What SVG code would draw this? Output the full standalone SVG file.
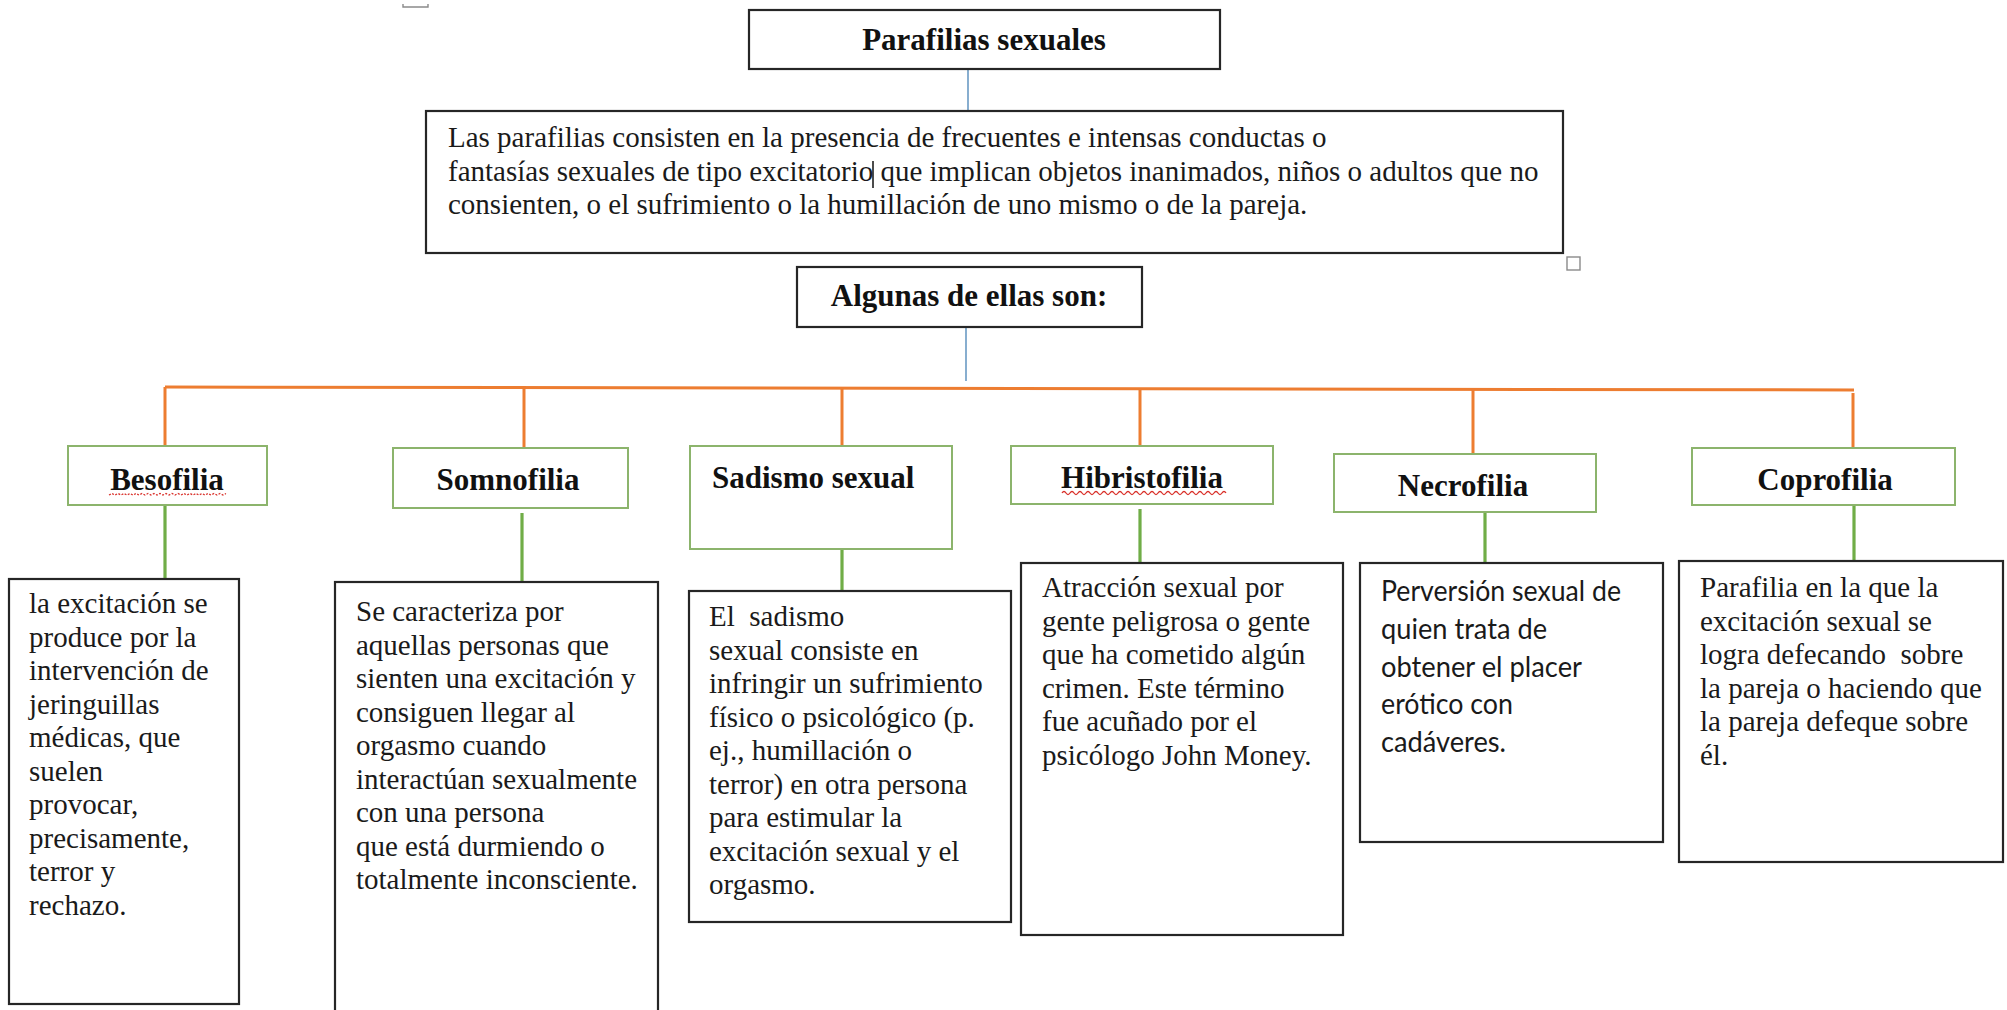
<svg xmlns="http://www.w3.org/2000/svg" width="2007" height="1010" viewBox="0 0 2007 1010">
<style>
.bg{fill:#ffffff}
.bk{fill:#ffffff;stroke:#262626;stroke-width:2.2}
.gb{fill:#ffffff;stroke:#8cb46c;stroke-width:2}
.h{font-family:"Liberation Serif","Times New Roman",serif;font-weight:bold;font-size:31px;fill:#111}
.t{font-family:"Liberation Serif","Times New Roman",serif;font-size:29px;fill:#1a1a1a;white-space:pre}
.c{font-family:Lato,"Open Sans",sans-serif;font-size:28px;fill:#1a1a1a}
.blue{stroke:#6a9ac4;stroke-width:1.6;fill:none}
.or{stroke:#ed7d31;stroke-width:3;fill:none}
.gr{stroke:#70ad47;stroke-width:3.2;fill:none}
.red{stroke:#d9312b;stroke-width:1.3;fill:none}
.mk{stroke:#8a8a8a;stroke-width:1.4;fill:none}
</style>
<rect class="bg" x="0" y="0" width="2007" height="1010"/>
<path class="mk" d="M403,4 V7 H428 V4"/>
<rect class="mk" x="1567" y="257" width="13" height="13" fill="#fff"/>

<g id="connectors">
  <line class="blue" x1="968" y1="69" x2="968" y2="111"/>
  <line class="blue" x1="966" y1="327" x2="966" y2="381"/>
  <line class="or" x1="165" y1="387" x2="1854" y2="390"/>
  <line class="or" x1="165" y1="387" x2="165" y2="446"/>
  <line class="or" x1="524" y1="388" x2="524" y2="448"/>
  <line class="or" x1="842" y1="388" x2="842" y2="446"/>
  <line class="or" x1="1140" y1="389" x2="1140" y2="446"/>
  <line class="or" x1="1473" y1="389" x2="1473" y2="454"/>
  <line class="or" x1="1853" y1="393" x2="1853" y2="448"/>
  <line class="gr" x1="165" y1="505" x2="165" y2="579"/>
  <line class="gr" x1="522" y1="513" x2="522" y2="582"/>
  <line class="gr" x1="842" y1="549" x2="842" y2="591"/>
  <line class="gr" x1="1140" y1="509" x2="1140" y2="563"/>
  <line class="gr" x1="1485" y1="512" x2="1485" y2="563"/>
  <line class="gr" x1="1854" y1="501" x2="1854" y2="561" stroke-width="4"/>
</g>

<g id="title">
  <rect class="bk" x="749" y="10" width="471" height="59"/>
  <text class="h" x="984" y="50" text-anchor="middle">Parafilias sexuales</text>
</g>

<g id="definition">
  <rect class="bk" x="426" y="111" width="1137" height="142"/>
  <text class="t" x="448" y="147">Las parafilias consisten en la presencia de frecuentes e intensas conductas o</text>
  <text class="t" x="448" y="181">fantasías sexuales de tipo excitatorio que implican objetos inanimados, niños o adultos que no</text>
  <text class="t" x="448" y="214">consienten, o el sufrimiento o la humillación de uno mismo o de la pareja.</text>
  <line x1="873" y1="161" x2="873" y2="188" stroke="#111" stroke-width="1.5"/>
</g>

<g id="algunas">
  <rect class="bk" x="797" y="267" width="345" height="60"/>
  <text class="h" x="969" y="306" text-anchor="middle" font-size="29">Algunas de ellas son:</text>
</g>

<g id="besofilia">
  <rect class="gb" x="68" y="446" width="199" height="59"/>
  <text class="h" x="167" y="490" text-anchor="middle">Besofilia</text>
  <path class="red" stroke-dasharray="2 1.5" d="M109,495 l3,-1.5 l3,1.5 l3,-1.5 l3,1.5 l3,-1.5 l3,1.5 l3,-1.5 l3,1.5 l3,-1.5 l3,1.5 l3,-1.5 l3,1.5 l3,-1.5 l3,1.5 l3,-1.5 l3,1.5 l3,-1.5 l3,1.5 l3,-1.5 l3,1.5 l3,-1.5 l3,1.5 l3,-1.5 l3,1.5 l3,-1.5 l3,1.5 l3,-1.5 l3,1.5 l3,-1.5 l3,1.5 l3,-1.5 l3,1.5 l3,-1.5 l3,1.5 l3,-1.5 l3,1.5 l3,-1.5 l3,1.5 l3,-1.5"/>
</g>
<g id="besofilia-desc">
  <rect class="bk" x="9" y="579" width="230" height="425"/>
  <text class="t" x="29" y="613">la excitación se</text>
  <text class="t" x="29" y="646.5">produce por la</text>
  <text class="t" x="29" y="680">intervención de</text>
  <text class="t" x="29" y="713.5">jeringuillas</text>
  <text class="t" x="29" y="747">médicas, que</text>
  <text class="t" x="29" y="780.5">suelen</text>
  <text class="t" x="29" y="814">provocar,</text>
  <text class="t" x="29" y="847.5">precisamente,</text>
  <text class="t" x="29" y="881">terror y</text>
  <text class="t" x="29" y="914.5">rechazo.</text>
</g>

<g id="somnofilia">
  <rect class="gb" x="393" y="448" width="235" height="60"/>
  <text class="h" x="508" y="490" text-anchor="middle">Somnofilia</text>
</g>
<g id="somnofilia-desc">
  <rect class="bk" x="335" y="582" width="323" height="440"/>
  <text class="t" x="356" y="621">Se caracteriza por</text>
  <text class="t" x="356" y="654.5">aquellas personas que</text>
  <text class="t" x="356" y="688">sienten una excitación y</text>
  <text class="t" x="356" y="721.5">consiguen llegar al</text>
  <text class="t" x="356" y="755">orgasmo cuando</text>
  <text class="t" x="356" y="788.5">interactúan sexualmente</text>
  <text class="t" x="356" y="822">con una persona</text>
  <text class="t" x="356" y="855.5">que está durmiendo o</text>
  <text class="t" x="356" y="889">totalmente inconsciente.</text>
</g>

<g id="sadismo">
  <rect class="gb" x="690" y="446" width="262" height="103"/>
  <text class="h" x="712" y="488">Sadismo sexual</text>
</g>
<g id="sadismo-desc">
  <rect class="bk" x="689" y="591" width="322" height="331"/>
  <text class="t" x="709" y="626">El  sadismo</text>
  <text class="t" x="709" y="659.5">sexual consiste en</text>
  <text class="t" x="709" y="693">infringir un sufrimiento</text>
  <text class="t" x="709" y="726.5">físico o psicológico (p.</text>
  <text class="t" x="709" y="760">ej., humillación o</text>
  <text class="t" x="709" y="793.5">terror) en otra persona</text>
  <text class="t" x="709" y="827">para estimular la</text>
  <text class="t" x="709" y="860.5">excitación sexual y el</text>
  <text class="t" x="709" y="894">orgasmo.</text>
</g>

<g id="hibristofilia">
  <rect class="gb" x="1011" y="446" width="262" height="58"/>
  <text class="h" x="1142" y="488" text-anchor="middle">Hibristofilia</text>
  <path class="red" d="M1062,493 q2,-3 4,0 t4,0 t4,0 t4,0 t4,0 t4,0 t4,0 t4,0 t4,0 t4,0 t4,0 t4,0 t4,0 t4,0 t4,0 t4,0 t4,0 t4,0 t4,0 t4,0 t4,0 t4,0 t4,0 t4,0 t4,0 t4,0 t4,0 t4,0 t4,0 t4,0 t4,0 t4,0 t4,0 t4,0 t4,0 t4,0 t4,0 t4,0 t4,0 t4,0 t4,0"/>
</g>
<g id="hibristofilia-desc">
  <rect class="bk" x="1021" y="563" width="322" height="372"/>
  <text class="t" x="1042" y="597">Atracción sexual por</text>
  <text class="t" x="1042" y="630.5">gente peligrosa o gente</text>
  <text class="t" x="1042" y="664">que ha cometido algún</text>
  <text class="t" x="1042" y="697.5">crimen. Este término</text>
  <text class="t" x="1042" y="731">fue acuñado por el</text>
  <text class="t" x="1042" y="764.5">psicólogo John Money.</text>
</g>

<g id="necrofilia">
  <rect class="gb" x="1334" y="454" width="262" height="58"/>
  <text class="h" x="1463" y="496" text-anchor="middle">Necrofilia</text>
</g>
<g id="necrofilia-desc">
  <rect class="bk" x="1360" y="563" width="303" height="279"/>
  <text class="c" x="1381" y="601" textLength="240" lengthAdjust="spacingAndGlyphs">Perversión sexual de</text>
  <text class="c" x="1381" y="638.8" textLength="166" lengthAdjust="spacingAndGlyphs">quien trata de</text>
  <text class="c" x="1381" y="676.6" textLength="201" lengthAdjust="spacingAndGlyphs">obtener el placer</text>
  <text class="c" x="1381" y="714.4" textLength="132" lengthAdjust="spacingAndGlyphs">erótico con</text>
  <text class="c" x="1381" y="752.2" textLength="125" lengthAdjust="spacingAndGlyphs">cadáveres.</text>
</g>

<g id="coprofilia">
  <rect class="gb" x="1692" y="448" width="263" height="57"/>
  <text class="h" x="1825" y="490" text-anchor="middle">Coprofilia</text>
</g>
<g id="coprofilia-desc">
  <rect class="bk" x="1679" y="561" width="324" height="301"/>
  <text class="t" x="1700" y="597">Parafilia en la que la</text>
  <text class="t" x="1700" y="630.5">excitación sexual se</text>
  <text class="t" x="1700" y="664">logra defecando  sobre</text>
  <text class="t" x="1700" y="697.5">la pareja o haciendo que</text>
  <text class="t" x="1700" y="731">la pareja defeque sobre</text>
  <text class="t" x="1700" y="764.5">él.</text>
</g>
</svg>
